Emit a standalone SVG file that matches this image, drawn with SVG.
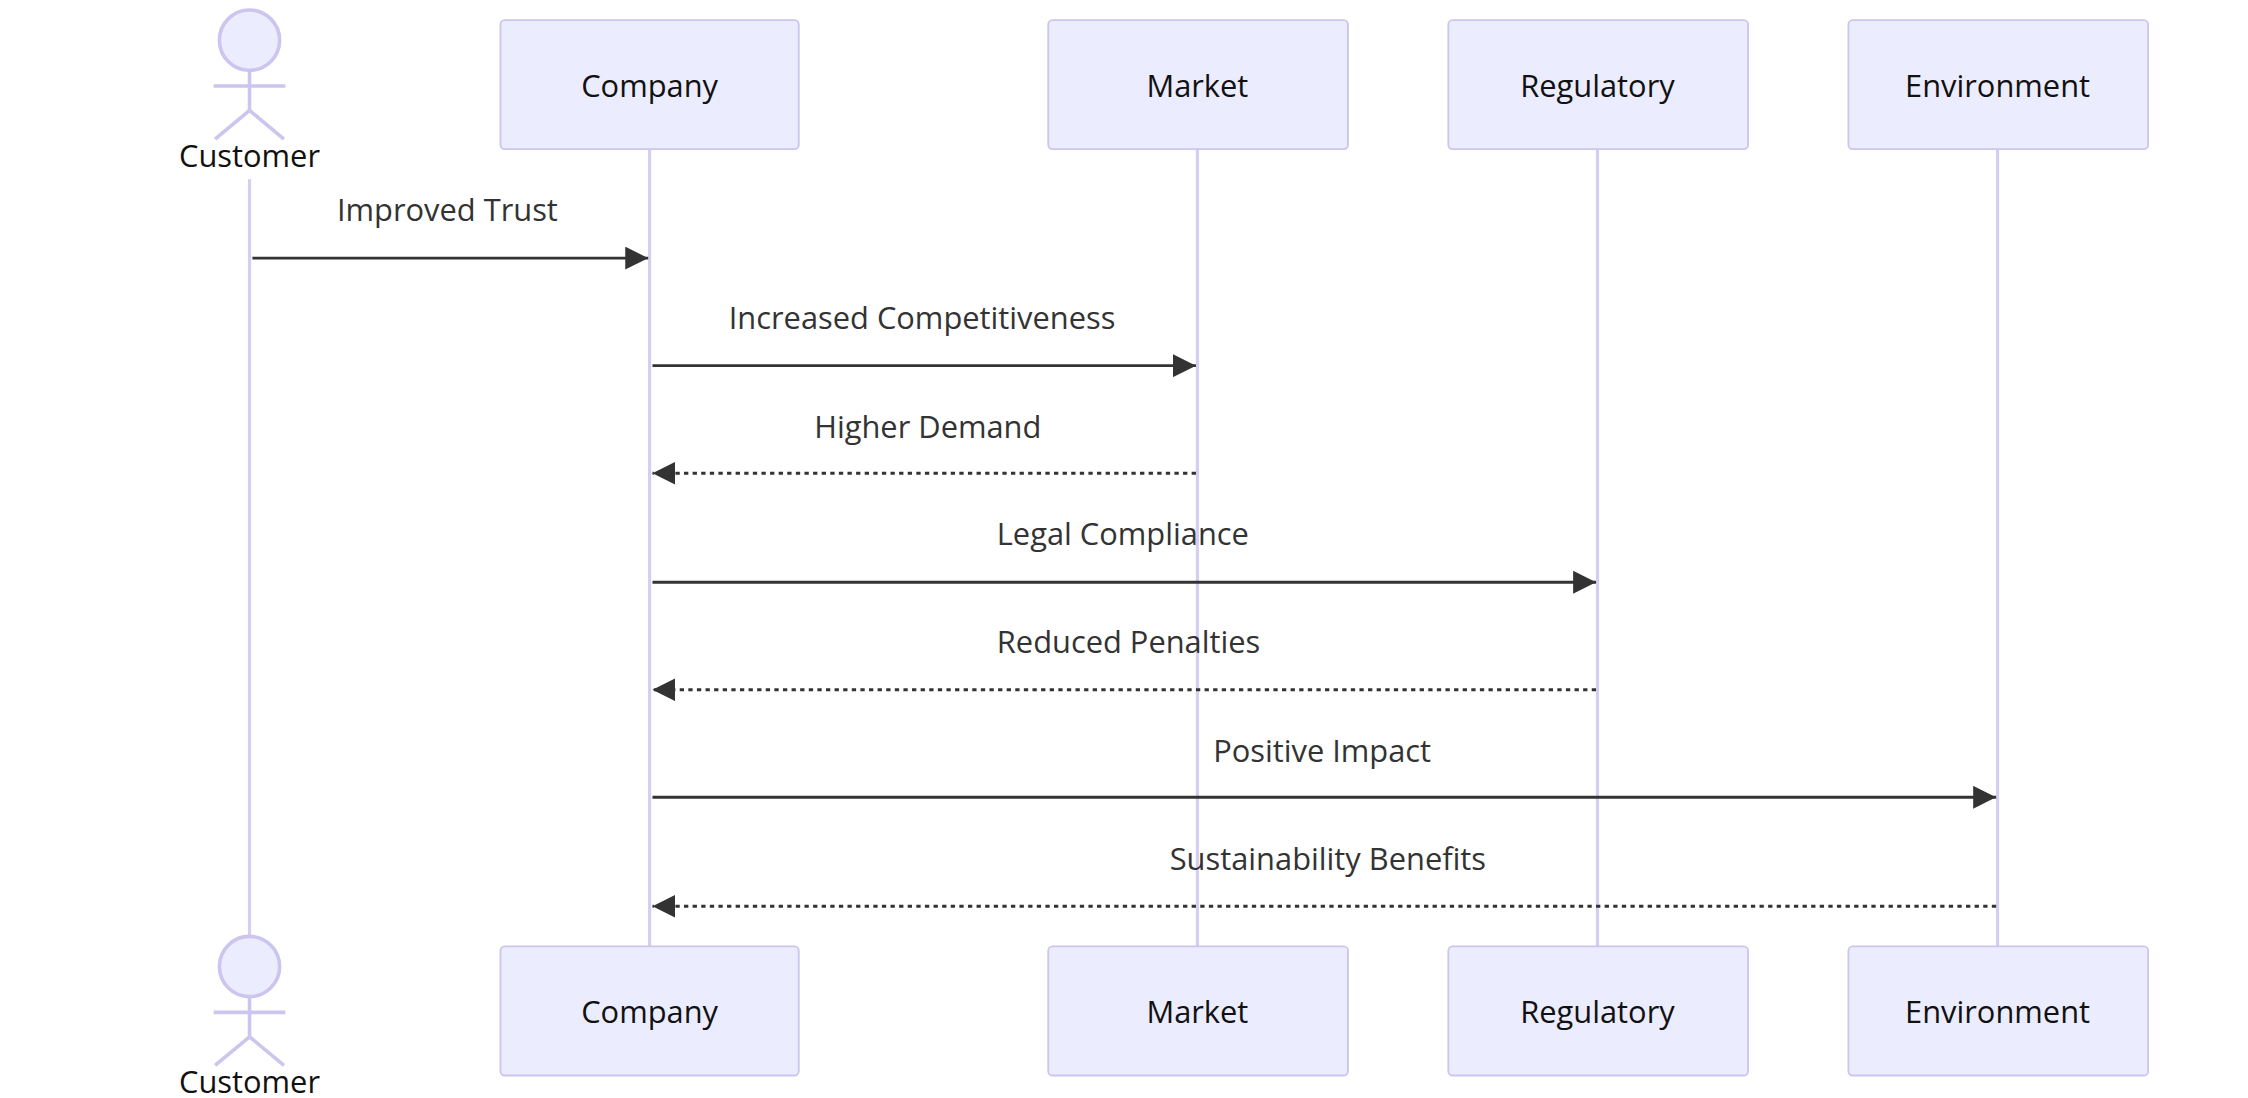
<svg xmlns="http://www.w3.org/2000/svg" width="2248" height="1098" viewBox="0 0 2248 1098">
<defs>
<style>
.box{fill:#ECECFF;stroke:#CCC5EE;stroke-width:1.3}
.life{stroke:#D6CEF0;stroke-width:2.2;fill:none}
.actor{fill:#ECECFF;stroke:#CCC5EE;stroke-width:2.5}
.t{font-family:"Open Sans","Liberation Sans",sans-serif;font-size:21.5px;fill:#111;text-anchor:middle;dominant-baseline:central}
.ml{font-family:"Open Sans","Liberation Sans",sans-serif;font-size:21.5px;fill:#333;text-anchor:middle;dominant-baseline:central}
.msg{stroke:#333;stroke-width:2;fill:none}
.dash{stroke-dasharray:3,3}
</style>
<marker id="arr" viewBox="0 0 16 16" refX="16" refY="8" markerWidth="16" markerHeight="16" markerUnits="userSpaceOnUse" orient="auto"><path d="M0,0 L16,8 L0,16 z" fill="#333"/></marker>
</defs>
<rect width="2248" height="1098" fill="#fff"/>
<g transform="scale(1.434)">
<g id="lifelines">
<line class="life" x1="174" y1="125" x2="174" y2="652"/>
<line class="life" x1="453" y1="104" x2="453" y2="660"/>
<line class="life" x1="835" y1="104" x2="835" y2="660"/>
<line class="life" x1="1114" y1="104" x2="1114" y2="660"/>
<line class="life" x1="1393" y1="104" x2="1393" y2="660"/>
</g>
<g id="customer-top">
<circle class="actor" cx="174" cy="28" r="21"/>
<line class="actor" x1="174" y1="49" x2="174" y2="77"/>
<line class="actor" x1="149" y1="60" x2="199" y2="60"/>
<line class="actor" x1="174" y1="77" x2="150" y2="97"/>
<line class="actor" x1="174" y1="77" x2="198" y2="97"/>
<text class="t" x="174" y="108">Customer</text>
</g>
<g id="customer-bottom">
<circle class="actor" cx="174" cy="674" r="21"/>
<line class="actor" x1="174" y1="695" x2="174" y2="723"/>
<line class="actor" x1="149" y1="706" x2="199" y2="706"/>
<line class="actor" x1="174" y1="723" x2="150" y2="743"/>
<line class="actor" x1="174" y1="723" x2="198" y2="743"/>
<text class="t" x="174" y="754">Customer</text>
</g>
<g id="company-top"><rect class="box" x="349" y="14" width="208" height="90" rx="3"/><text class="t" x="453" y="59">Company</text></g>
<g id="market-top"><rect class="box" x="731" y="14" width="209" height="90" rx="3"/><text class="t" x="835" y="59">Market</text></g>
<g id="regulatory-top"><rect class="box" x="1010" y="14" width="209" height="90" rx="3"/><text class="t" x="1114" y="59">Regulatory</text></g>
<g id="environment-top"><rect class="box" x="1289" y="14" width="209" height="90" rx="3"/><text class="t" x="1393" y="59">Environment</text></g>
<g id="company-bottom"><rect class="box" x="349" y="660" width="208" height="90" rx="3"/><text class="t" x="453" y="705">Company</text></g>
<g id="market-bottom"><rect class="box" x="731" y="660" width="209" height="90" rx="3"/><text class="t" x="835" y="705">Market</text></g>
<g id="regulatory-bottom"><rect class="box" x="1010" y="660" width="209" height="90" rx="3"/><text class="t" x="1114" y="705">Regulatory</text></g>
<g id="environment-bottom"><rect class="box" x="1289" y="660" width="209" height="90" rx="3"/><text class="t" x="1393" y="705">Environment</text></g>
<g id="connectors">
<line class="msg" x1="176" y1="180" x2="452" y2="180" marker-end="url(#arr)"/>
<text class="ml" x="312" y="146">Improved Trust</text>
<line class="msg" x1="455" y1="255" x2="834" y2="255" marker-end="url(#arr)"/>
<text class="ml" x="643" y="221">Increased Competitiveness</text>
<line class="msg dash" x1="834" y1="330" x2="455" y2="330" marker-end="url(#arr)"/>
<text class="ml" x="647" y="297">Higher Demand</text>
<line class="msg" x1="455" y1="406" x2="1113" y2="406" marker-end="url(#arr)"/>
<text class="ml" x="783" y="372">Legal Compliance</text>
<line class="msg dash" x1="1113" y1="481" x2="455" y2="481" marker-end="url(#arr)"/>
<text class="ml" x="787" y="447">Reduced Penalties</text>
<line class="msg" x1="455" y1="556" x2="1392" y2="556" marker-end="url(#arr)"/>
<text class="ml" x="922" y="523">Positive Impact</text>
<line class="msg dash" x1="1392" y1="632" x2="455" y2="632" marker-end="url(#arr)"/>
<text class="ml" x="926" y="598">Sustainability Benefits</text>
</g>
</g>
</svg>
